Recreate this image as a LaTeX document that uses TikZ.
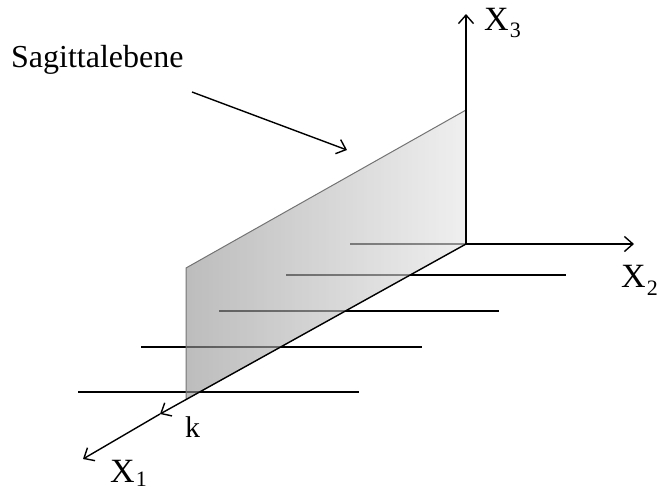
\documentclass[tikz,border=0pt]{standalone}
\usepackage{fontspec}
\setmainfont{Liberation Serif}
\usetikzlibrary{arrows.meta}
\begin{document}
\begin{tikzpicture}[x=1pt,y=-1pt,
  tipstyle/.style={-{Straight Barb[length=8.5pt,width=15pt,line width=1.4pt]}},
  axisline/.style={line width=1.4pt, tipstyle},
  hline/.style={line width=1.5pt},
  plane/.style={left color=black!42, right color=black!10, fill opacity=0.62, draw=none},
  lbl/.style={inner sep=0pt, anchor=base west, font=\fontsize{34}{34}\selectfont},
  sublbl/.style={font=\fontsize{22}{22}\selectfont}]
\useasboundingbox (0,0) rectangle (657,491);
% coordinates
\coordinate (O) at (466,244);
\coordinate (TR) at (466,110);
\coordinate (TL) at (186,268);
\coordinate (BL) at (186,400);
\coordinate (K) at (160,414);
\coordinate (E1) at (83,459);
\coordinate (E2) at (634,244);
\coordinate (E3) at (466,14);
% horizontal lines
\coordinate (a1) at (350,244);
\coordinate (a2) at (286,275); \coordinate (b2) at (566,275);
\coordinate (a3) at (219,311); \coordinate (b3) at (499,311);
\coordinate (a4) at (141,347); \coordinate (b4) at (422,347);
\coordinate (a5) at (78,392);  \coordinate (b5) at (359,392);
\draw[hline] (a1) -- (O);
\draw[hline] (a2) -- (b2);
\draw[hline] (a3) -- (b3);
\draw[hline] (a4) -- (b4);
\draw[hline] (a5) -- (b5);
% plane
\path[plane] (BL) -- (TL) -- (TR) -- (O) -- cycle;
\draw[line width=1pt, black!55] (BL) -- (TL) -- (TR);
% axes
\draw[axisline] (O) -- (E3);
\draw[axisline] (O) -- (E2);
\draw[axisline] (O) -- (K);
\draw[axisline] (K) -- (E1);
% labels
\node[lbl] (x3) at (484,30) {X\hspace{1pt}\raisebox{-7pt}{\fontsize{22}{22}\selectfont 3}};
\node[lbl] (x2) at (621,287) {X\hspace{1pt}\raisebox{-8pt}{\fontsize{22}{22}\selectfont 2}};
\node[lbl] (x1) at (110,482) {X\hspace{1pt}\raisebox{-4pt}{\fontsize{22}{22}\selectfont 1}};
\node[lbl, font=\fontsize{30}{30}\selectfont] (k) at (185,437) {k};
\node[lbl, font=\fontsize{32}{32}\selectfont] (sag) at (11,67) {Sagittalebene};
\coordinate (s1) at (192,92);
\coordinate (s2) at (347,150);
\draw[line width=1.4pt, tipstyle] (s1) -- (s2);
\end{tikzpicture}
\end{document}
